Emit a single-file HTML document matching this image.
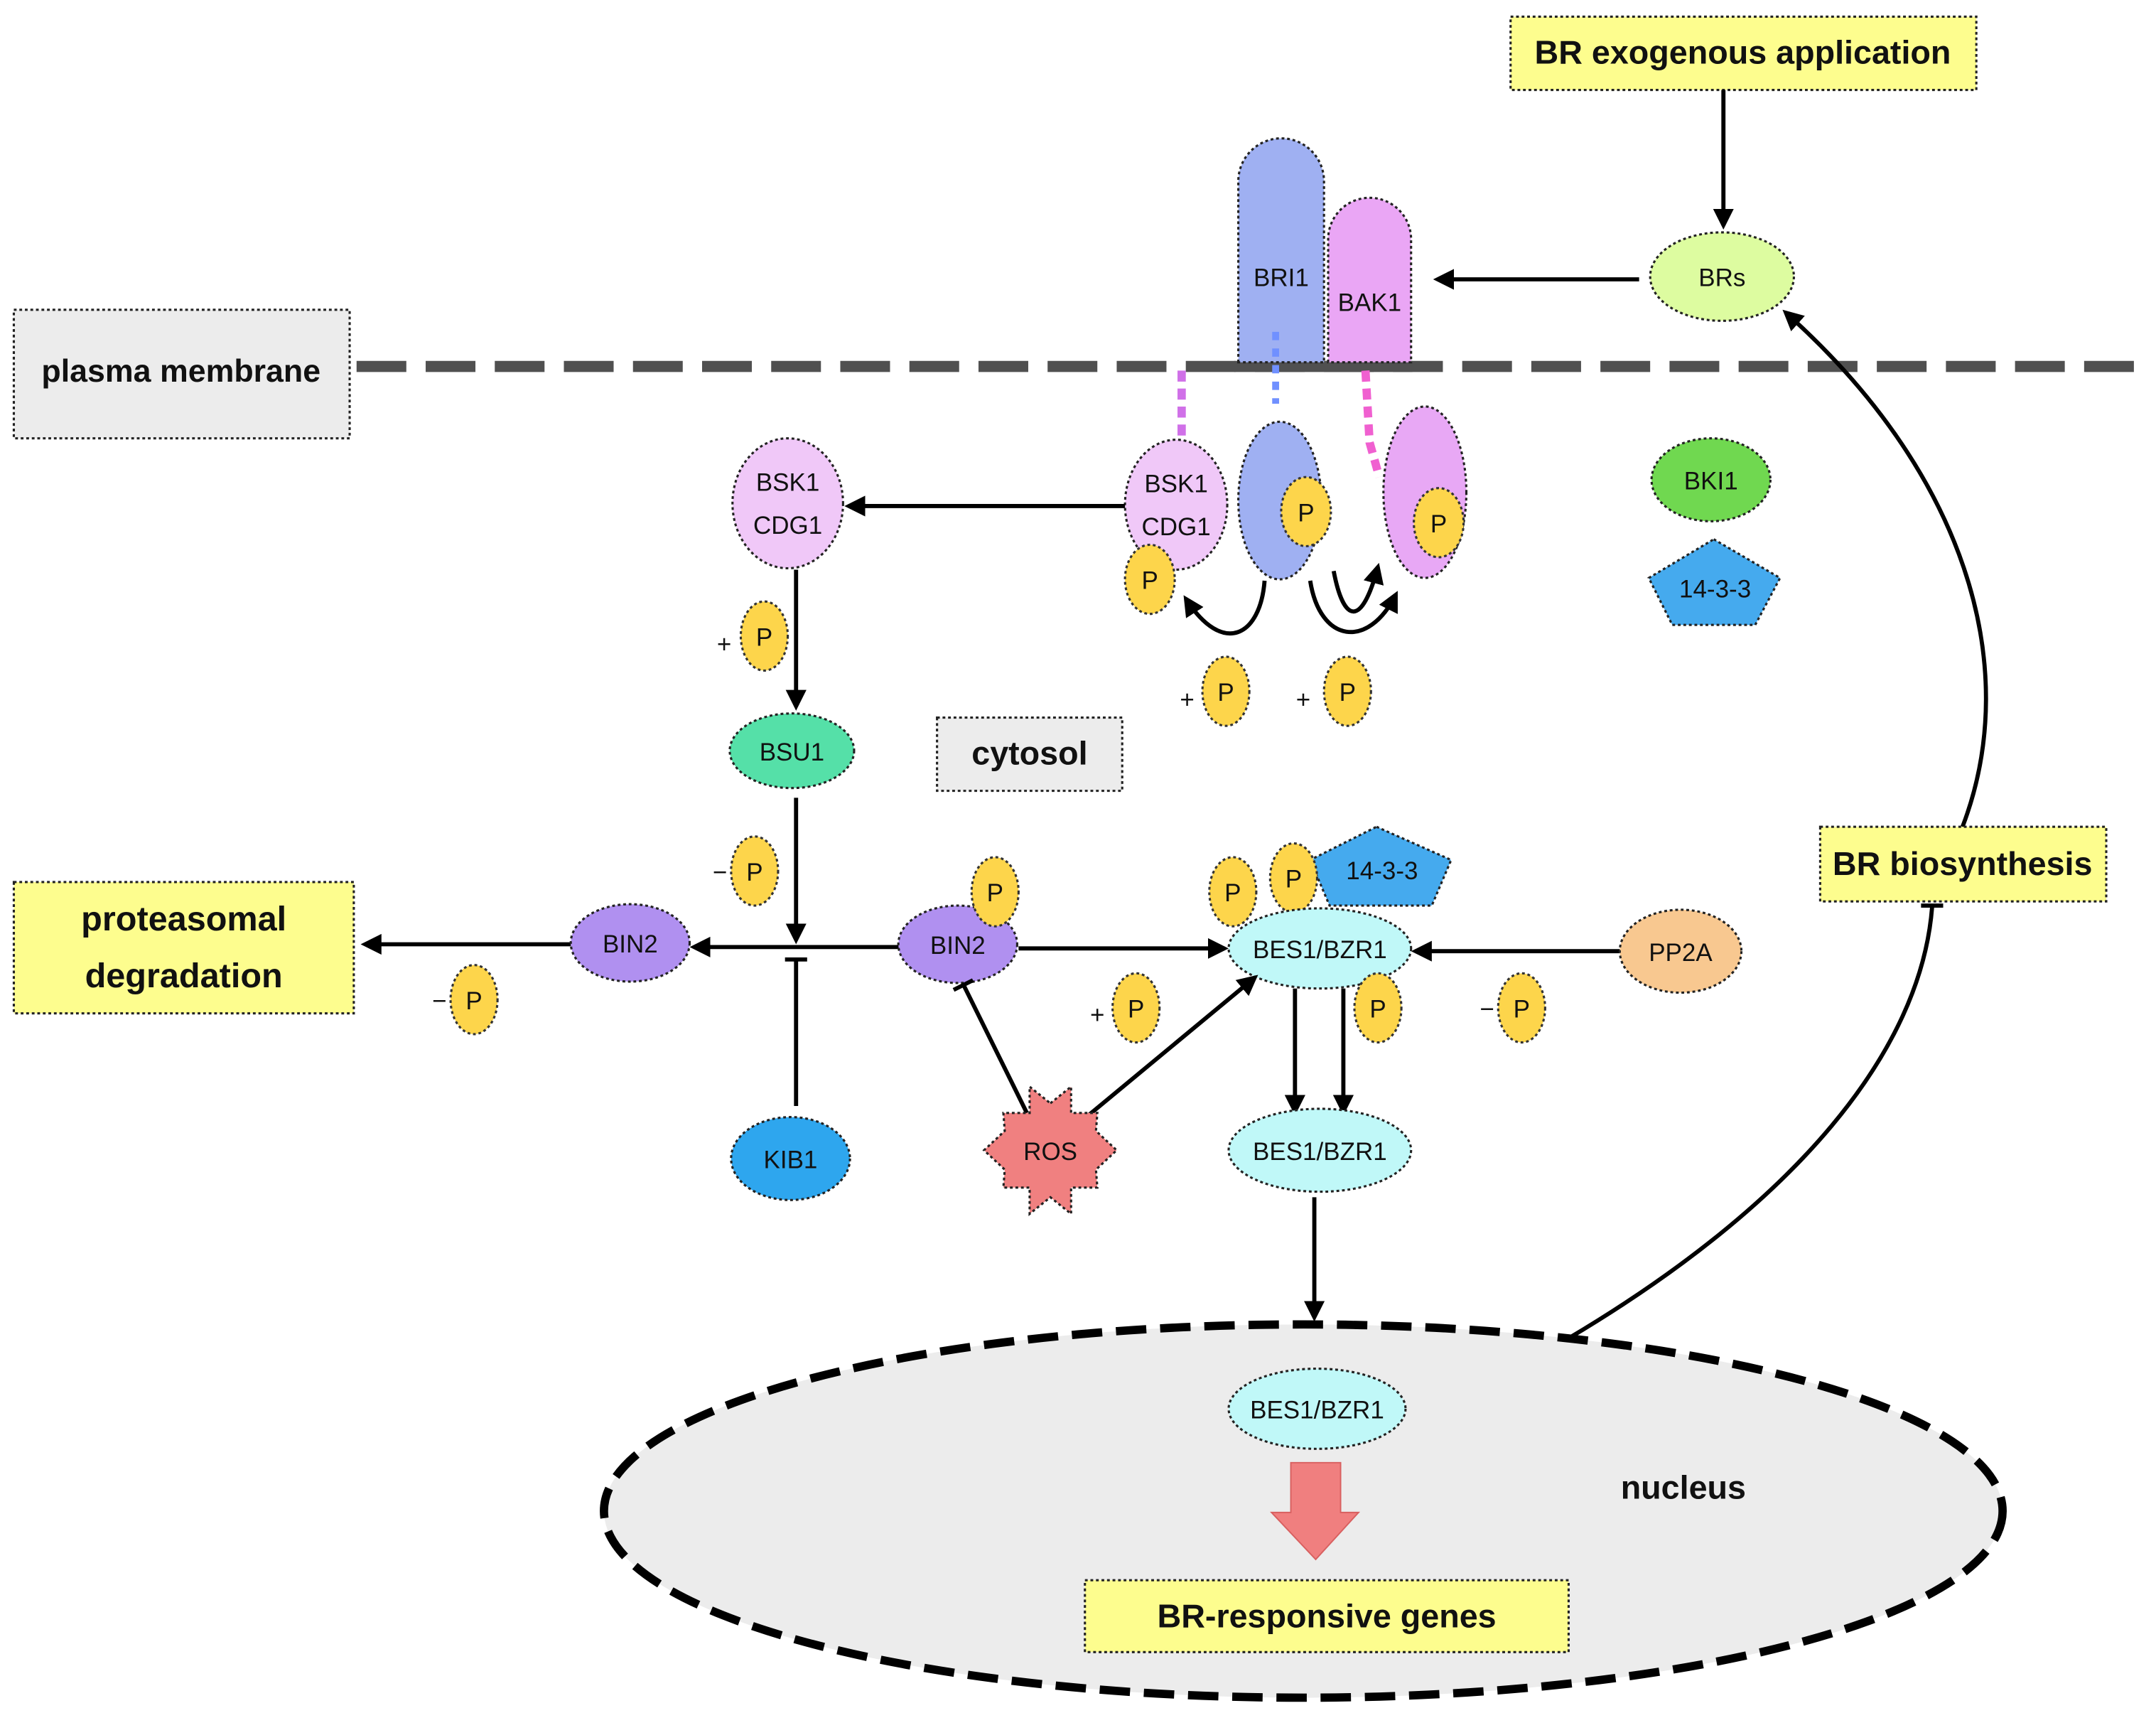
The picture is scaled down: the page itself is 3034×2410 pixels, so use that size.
<!DOCTYPE html>
<html><head><meta charset="utf-8"><style>
html,body{margin:0;padding:0;background:#fff}
svg{display:block}
text{font-family:"Liberation Sans Narrow","Liberation Sans",sans-serif;fill:#111}
.b{font-weight:bold;font-family:"Liberation Sans",sans-serif}
.d{stroke:#222;stroke-width:1.6;stroke-dasharray:2 2}
.p{fill:#fdd54b;stroke:#333;stroke-width:1.6;stroke-dasharray:2 2}
.l{stroke:#000;stroke-width:3;fill:none}
</style></head><body>
<svg width="3034" height="2410" viewBox="0 0 1560 1239" xmlns="http://www.w3.org/2000/svg">
<defs>
<marker id="a" viewBox="0 0 10 10" refX="8" refY="5" markerWidth="5" markerHeight="5" orient="auto"><path d="M0,0 L10,5 L0,10 z" fill="#000"/></marker>
</defs>
<rect width="1560" height="1239" fill="#fff"/>

<!-- nucleus -->
<ellipse cx="943" cy="1093" rx="506" ry="135" fill="#ececec" stroke="#000" stroke-width="6" stroke-dasharray="22 10"/>
<text x="1218" y="1084" class="b" font-size="24" text-anchor="middle">nucleus</text>

<!-- membrane -->
<line x1="258" y1="265" x2="1550" y2="265" stroke="#505050" stroke-width="8" stroke-dasharray="36 14"/>
<line x1="893" y1="265" x2="1022" y2="265" stroke="#505050" stroke-width="8"/>
<rect x="10" y="224" width="243" height="93" fill="#ececec" class="d"/>
<text x="131" y="276" class="b" font-size="23" text-anchor="middle">plasma membrane</text>

<!-- BR exogenous -->
<rect x="1093" y="12" width="337" height="53" fill="#fdfd8e" class="d"/>
<text x="1261" y="46" class="b" font-size="24" text-anchor="middle">BR exogenous application</text>
<line x1="1247" y1="65" x2="1247" y2="163" class="l" marker-end="url(#a)"/>
<ellipse cx="1246" cy="200" rx="52" ry="32" fill="#ddfca0" class="d"/>
<text x="1246" y="207" font-size="18" text-anchor="middle">BRs</text>
<line x1="1186" y1="202" x2="1040" y2="202" class="l" marker-end="url(#a)"/>

<!-- receptors -->
<path d="M896,262 V131 A31,31 0 0 1 958,131 V262 Z" fill="#9fb0f2" class="d"/>
<path d="M961,262 V173 A30,30 0 0 1 1021,173 V262 Z" fill="#eaa6f5" class="d"/>
<text x="927" y="207" font-size="18" text-anchor="middle">BRI1</text>
<text x="991" y="225" font-size="18" text-anchor="middle">BAK1</text>
<line x1="855" y1="268" x2="855" y2="318" stroke="#d070e8" stroke-width="6" stroke-dasharray="8 5"/>
<line x1="923" y1="240" x2="923" y2="292" stroke="#7090ff" stroke-width="5" stroke-dasharray="6 6"/>
<path d="M988,268 L991,320 L998,345" stroke="#f060d0" stroke-width="6" stroke-dasharray="8 5" fill="none"/>

<!-- intracellular complex -->
<ellipse cx="851" cy="365" rx="37" ry="47" fill="#f0c8f8" class="d"/>
<text x="851" y="356" font-size="18" text-anchor="middle">BSK1</text>
<text x="851" y="387" font-size="18" text-anchor="middle">CDG1</text>
<ellipse cx="926" cy="362" rx="30" ry="57" fill="#9fb0f2" class="d"/>
<ellipse cx="1031" cy="356" rx="30" ry="62" fill="#e8a8f5" class="d"/>
<ellipse cx="945" cy="370" rx="18" ry="25" class="p"/><text x="945" y="377" font-size="18" text-anchor="middle">P</text>
<ellipse cx="1041" cy="378" rx="18" ry="25" class="p"/><text x="1041" y="385" font-size="18" text-anchor="middle">P</text>
<ellipse cx="832" cy="419" rx="18" ry="25" class="p"/><text x="832" y="426" font-size="18" text-anchor="middle">P</text>
<path d="M915,420 C912,460 885,475 858,433" class="l" marker-end="url(#a)"/>
<path d="M948,420 C955,465 990,470 1010,430" class="l" marker-end="url(#a)"/>
<path d="M965,413 C972,450 985,455 997,410" class="l" marker-end="url(#a)"/>
<text x="859" y="512" font-size="18" text-anchor="middle">+</text>
<ellipse cx="887" cy="500" rx="17" ry="25" class="p"/><text x="887" y="507" font-size="18" text-anchor="middle">P</text>
<text x="943" y="512" font-size="18" text-anchor="middle">+</text>
<ellipse cx="975" cy="500" rx="17" ry="25" class="p"/><text x="975" y="507" font-size="18" text-anchor="middle">P</text>

<!-- BKI1, 14-3-3 -->
<ellipse cx="1238" cy="347" rx="43" ry="30" fill="#70d850" class="d"/>
<text x="1238" y="354" font-size="18" text-anchor="middle">BKI1</text>
<polygon points="1240,390 1288,418 1270,452 1210,452 1193,418" fill="#45aaee" class="d"/>
<text x="1241" y="432" font-size="18" text-anchor="middle">14-3-3</text>

<!-- BSK1 left -->
<line x1="814" y1="366" x2="614" y2="366" class="l" marker-end="url(#a)"/>
<ellipse cx="570" cy="364" rx="40" ry="47" fill="#f0c8f8" class="d"/>
<text x="570" y="355" font-size="18" text-anchor="middle">BSK1</text>
<text x="570" y="386" font-size="18" text-anchor="middle">CDG1</text>
<line x1="576" y1="412" x2="576" y2="511" class="l" marker-end="url(#a)"/>
<text x="524" y="472" font-size="18" text-anchor="middle">+</text>
<ellipse cx="553" cy="460" rx="17" ry="25" class="p"/><text x="553" y="467" font-size="18" text-anchor="middle">P</text>
<ellipse cx="573" cy="543" rx="45" ry="27" fill="#55e0a8" class="d"/>
<text x="573" y="550" font-size="18" text-anchor="middle">BSU1</text>
<rect x="678" y="519" width="134" height="53" fill="#ececec" class="d"/>
<text x="745" y="553" class="b" font-size="24" text-anchor="middle">cytosol</text>
<line x1="576" y1="577" x2="576" y2="680" class="l" marker-end="url(#a)"/>
<text x="521" y="637" font-size="18" text-anchor="middle">−</text>
<ellipse cx="546" cy="630" rx="17" ry="25" class="p"/><text x="546" y="637" font-size="18" text-anchor="middle">P</text>

<!-- BIN2 line -->
<line x1="655" y1="685" x2="502" y2="685" class="l" marker-end="url(#a)"/>
<line x1="413" y1="683" x2="264" y2="683" class="l" marker-end="url(#a)"/>
<line x1="576" y1="800" x2="576" y2="694" class="l"/>
<line x1="568" y1="694" x2="584" y2="694" class="l"/>
<ellipse cx="572" cy="838" rx="43" ry="30" fill="#2ea6ee" class="d"/>
<text x="572" y="845" font-size="18" text-anchor="middle">KIB1</text>
<ellipse cx="456" cy="682" rx="43" ry="28" fill="#b090f0" class="d"/>
<text x="456" y="689" font-size="18" text-anchor="middle">BIN2</text>
<ellipse cx="693" cy="683" rx="43" ry="28" fill="#b090f0" class="d"/>
<text x="693" y="690" font-size="18" text-anchor="middle">BIN2</text>
<ellipse cx="720" cy="645" rx="17" ry="25" class="p"/><text x="720" y="652" font-size="18" text-anchor="middle">P</text>
<rect x="10" y="638" width="246" height="95" fill="#fdfd8e" class="d"/>
<text x="133" y="673" class="b" font-size="25" text-anchor="middle">proteasomal</text>
<text x="133" y="714" class="b" font-size="25" text-anchor="middle">degradation</text>
<text x="318" y="730" font-size="18" text-anchor="middle">−</text>
<ellipse cx="343" cy="723" rx="17" ry="25" class="p"/><text x="343" y="730" font-size="18" text-anchor="middle">P</text>

<!-- BES1 -->
<line x1="737" y1="686" x2="886" y2="686" class="l" marker-end="url(#a)"/>
<line x1="1172" y1="688" x2="1024" y2="688" class="l" marker-end="url(#a)"/>
<ellipse cx="1216" cy="688" rx="44" ry="30" fill="#f8c890" class="d"/>
<text x="1216" y="695" font-size="18" text-anchor="middle">PP2A</text>
<text x="1076" y="736" font-size="18" text-anchor="middle">−</text>
<ellipse cx="1101" cy="729" rx="17" ry="25" class="p"/><text x="1101" y="736" font-size="18" text-anchor="middle">P</text>
<text x="794" y="740" font-size="18" text-anchor="middle">+</text>
<ellipse cx="822" cy="729" rx="17" ry="25" class="p"/><text x="822" y="736" font-size="18" text-anchor="middle">P</text>
<polygon points="996,598 1050,622 1036,655 962,655 948,622" fill="#45aaee" class="d"/>
<text x="1000" y="636" font-size="18" text-anchor="middle">14-3-3</text>
<ellipse cx="892" cy="645" rx="17" ry="25" class="p"/><text x="892" y="652" font-size="18" text-anchor="middle">P</text>
<ellipse cx="936" cy="635" rx="17" ry="25" class="p"/><text x="936" y="642" font-size="18" text-anchor="middle">P</text>
<ellipse cx="955" cy="686" rx="66" ry="29" fill="#c0f8f8" class="d"/>
<text x="955" y="693" font-size="18" text-anchor="middle">BES1/BZR1</text>
<ellipse cx="997" cy="729" rx="17" ry="25" class="p"/><text x="997" y="736" font-size="18" text-anchor="middle">P</text>
<line x1="937" y1="715" x2="937" y2="804" class="l" marker-end="url(#a)"/>
<line x1="972" y1="715" x2="972" y2="804" class="l" marker-end="url(#a)"/>

<!-- ROS -->
<line x1="743" y1="805" x2="697" y2="712" class="l"/>
<line x1="690" y1="716" x2="704" y2="709" class="l"/>
<line x1="786" y1="808" x2="908" y2="707" class="l" marker-end="url(#a)"/>
<polygon points="760,798 775,786 775,805 794,805 793,818 808,832 793,846 794,859 775,859 775,878 760,866 745,878 745,859 726,859 727,846 712,832 727,818 726,805 745,805 745,786" fill="#f08080" class="d"/>
<text x="760" y="839" font-size="18" text-anchor="middle">ROS</text>

<ellipse cx="955" cy="832" rx="66" ry="30" fill="#c0f8f8" class="d"/>
<text x="955" y="839" font-size="18" text-anchor="middle">BES1/BZR1</text>
<line x1="951" y1="866" x2="951" y2="953" class="l" marker-end="url(#a)"/>

<ellipse cx="953" cy="1019" rx="64" ry="29" fill="#c0f8f8" class="d"/>
<text x="953" y="1026" font-size="18" text-anchor="middle">BES1/BZR1</text>
<polygon points="934,1058 970,1058 970,1094 983,1094 952,1128 920,1094 934,1094" fill="#f07f7f" stroke="#d86060" stroke-width="1"/>
<rect x="785" y="1143" width="350" height="52" fill="#fdfd8e" class="d"/>
<text x="960" y="1177" class="b" font-size="24" text-anchor="middle">BR-responsive genes</text>

<!-- feedback -->
<path d="M1135,968 C1300,870 1390,760 1398,656" class="l"/>
<line x1="1390" y1="655" x2="1406" y2="655" class="l"/>
<path d="M1420,598 C1465,480 1420,340 1292,226" class="l" marker-end="url(#a)"/>
<rect x="1317" y="598" width="207" height="54" fill="#fdfd8e" class="d"/>
<text x="1420" y="633" class="b" font-size="24" text-anchor="middle">BR biosynthesis</text>
</svg>
</body></html>
